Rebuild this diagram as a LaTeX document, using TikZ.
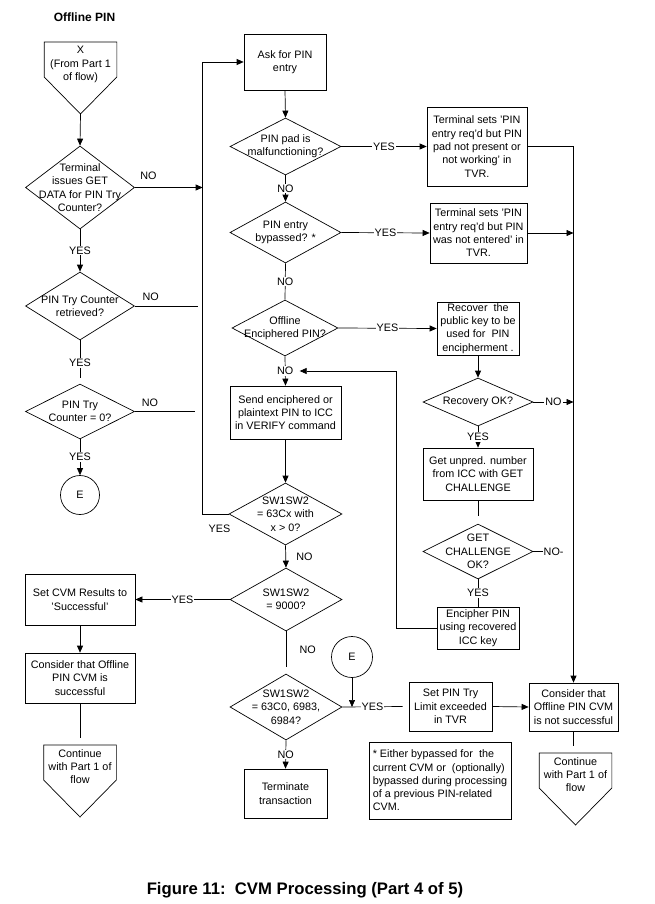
\documentclass[tikz,border=0pt]{standalone}
\usepackage{fontspec}
\setmainfont{Liberation Sans}
\usetikzlibrary{shapes.geometric,arrows.meta,calc}

% outline of an off-page connector below node #1, tip named #2
\newcommand{\pagetip}[2]{%
  \draw (#1.north west) -- (#1.north east) -- ($(#1.north east)+(0,35)$)
    -- ($(#1.north)+(0,72)$) -- ($(#1.north west)+(0,35)$) -- cycle;
  \coordinate (#2) at ($(#1.north)+(0,72)$);}

\begin{document}
\begin{tikzpicture}
    [
        x=1pt, y=-1pt,
        line width=0.7pt,
        every node/.style={font=\fontsize{10.8}{13.3}\selectfont},
        box/.style={draw, rectangle, align=center, inner sep=1pt},
        dec/.style={draw, diamond, inner sep=0pt},
        dtext/.style={align=center},
        lbl/.style={fill=white, inner sep=1pt},
        conn/.style={draw, circle, inner sep=0pt, minimum size=39pt},
        pagebox/.style={minimum width=72pt, inner sep=4pt, align=center, anchor=north},
        flow/.style={-{Triangle[length=7pt,width=6pt]}},
    ]
    \useasboundingbox (0,0) rectangle (655,904);

    % left column
    \node[font=\fontsize{12}{14}\selectfont\bfseries] (title) at (84.5,17) {Offline PIN};
    \node[pagebox] (fromx) at (80.5,42) {X\\(From Part 1\\of flow)};
    \pagetip{fromx}{fromtip}
    \node[dec, minimum width=109pt, minimum height=83pt,
        label={[dtext]center:{Terminal\\issues GET\\DATA for PIN Try\\Counter?}}] (gd) at (80,187.5) {};
    \node[dec, minimum width=109pt, minimum height=68pt,
        label={[dtext]center:{PIN Try Counter\\retrieved?}}] (ptc) at (80,306) {};
    \node[dec, minimum width=109pt, minimum height=55pt,
        label={[dtext]center:{PIN Try\\Counter = 0?}}] (ptz) at (80,411.5) {};
    \node[conn] (e1) at (80,495) {E};
    \node[box, minimum width=110pt, minimum height=51pt] (setcvm) at (80,599.5) {Set CVM Results to\\'Successful'};
    \node[box, minimum width=110pt, minimum height=50pt] (okcvm) at (80,678) {Consider that Offline\\PIN CVM is\\successful};
    \node[pagebox] (backok) at (80,745) {Continue\\with Part 1 of\\flow};
    \pagetip{backok}{oktip}

    % middle column
    \node[box, minimum width=82pt, minimum height=56pt] (ask) at (285,62) {Ask for PIN\\entry};
    \node[dec, minimum width=111pt, minimum height=57pt,
        label={[dtext]center:{PIN pad is\\malfunctioning?}}] (pad) at (285.5,146.5) {};
    \node[dec, minimum width=111pt, minimum height=61pt,
        label={[dtext]center:{PIN entry\\bypassed? *}}] (byp) at (285.5,232.5) {};
    \node[dec, minimum width=106pt, minimum height=56pt,
        label={[dtext]center:{Offline\\Enciphered PIN?}}] (enc) at (285,328) {};
    \node[box, minimum width=111pt, minimum height=53pt] (send) at (285.5,412.5) {Send enciphered or\\plaintext PIN to ICC\\in VERIFY command};
    \node[dec, minimum width=113pt, minimum height=62pt,
        label={[dtext]center:{SW1SW2\\= 63Cx with\\x > 0?}}] (s63cx) at (285.5,514) {};
    \node[dec, minimum width=112pt, minimum height=63pt,
        label={[dtext]center:{SW1SW2\\= 9000?}}] (s9000) at (286,599.5) {};
    \node[dec, minimum width=112pt, minimum height=66pt,
        label={[dtext]center:{SW1SW2\\= 63C0, 6983,\\6984?}}] (s63c0) at (286,707) {};
    \node[box, minimum width=83pt, minimum height=49pt] (term) at (285.5,793.5) {Terminate\\transaction};
    \node[conn, minimum size=41pt] (e2) at (352,657) {E};

    % right column
    \node[box, minimum width=100pt, minimum height=79pt] (tvr1) at (477,146.5) {Terminal sets 'PIN\\entry req'd but PIN\\pad not present or\\not working' in\\TVR.};
    \node[box, minimum width=97pt, minimum height=60pt] (tvr2) at (478.5,233) {Terminal sets 'PIN\\entry req'd but PIN\\was not entered' in\\TVR.};
    \node[box, minimum width=82pt, minimum height=53pt] (recover) at (478,328.5) {Recover\ \ the\\public key to be\\used for\ \ PIN\\encipherment .};
    \node[dec, minimum width=110pt, minimum height=48pt,
        label={[dtext]center:{Recovery OK?}}] (rok) at (478,402) {};
    \node[box, minimum width=110pt, minimum height=52pt] (getun) at (478,474) {Get unpred. number\\from ICC with GET\\CHALLENGE};
    \node[dec, minimum width=110pt, minimum height=55pt,
        label={[dtext]center:{GET\\CHALLENGE\\OK?}}] (gcok) at (478,551.5) {};
    \node[box, minimum width=82pt, minimum height=42pt] (encipher) at (478,628) {Encipher PIN\\using recovered\\ICC key};
    \node[box, minimum width=83pt, minimum height=49pt] (setpin) at (450.5,706.5) {Set PIN Try\\Limit exceeded\\in TVR};
    \node[box, minimum width=89pt, minimum height=48pt] (failcvm) at (573.5,707) {Consider that\\Offline PIN CVM\\is not successful};
    \node[box, align=left, minimum width=142pt, minimum height=77pt] (note) at (440,780.5)
        {* Either bypassed for\ \ the\\current CVM or\ \ (optionally)\\bypassed during processing\\of a previous PIN-related\\CVM.};
    \node[pagebox] (backfail) at (575.5,753) {Continue\\with Part 1 of\\flow};
    \pagetip{backfail}{failtip}

    \node[font=\fontsize{16.7}{20}\selectfont\bfseries] (caption) at (305,890) {Figure 11:\ \ CVM Processing (Part 4 of 5)};

    % connectors, left column
    \draw[flow] (fromtip) -- (gd.north);
    \draw[flow] (s63cx.west) -- node[pos=.35, below=7pt]{YES} ++(-26,0) coordinate (loopx) |- (ask.west);
    \draw[flow] (gd.east) -- node[pos=.2, above=4pt]{NO} (gd.east -| loopx);
    \draw (ptc.east) -- node[pos=.25, above=2pt]{NO} ++(63,0);
    \draw (ptz.east) -- node[pos=.25, above=1pt]{NO} ++(60,0);
    \draw[flow] (gd.south) -- node[lbl]{YES} (ptc.north);
    \draw (ptc.south) -- node[lbl, pos=.6]{YES} ($(ptz.north)+(0,-6)$);
    \draw[flow] (ptz.south) -- node[lbl]{YES} (e1.north);
    \draw[flow] (setcvm.south) -- (okcvm.north);
    \draw (okcvm.south) -- ++(0,35);

    % connectors, middle column
    \draw[flow] (ask.south) -- (pad.north);
    \draw[flow] (pad.east) -- node[lbl]{YES} (tvr1.west);
    \draw[flow] (pad.south) -- node[lbl]{NO} (byp.north);
    \draw[flow] (byp.east) -- node[lbl]{YES} (tvr2.west);
    \draw (byp.south) -- node[lbl]{NO} (enc.north);
    \draw[flow] (enc.east) -- node[lbl]{YES} (recover.west);
    \draw[flow] (enc.south) -- node[lbl] (noenc) {NO} (send.north);
    \draw[flow] (send.south) -- (s63cx.north);
    \draw[flow] (s63cx.south) -- node[right=7pt]{NO} (s9000.north);
    \draw[flow] (s9000.west) -- node[lbl]{YES} (setcvm.east);
    \draw (s9000.south) -- node[right=10pt]{NO} ++(0,36);
    \draw[flow] (s63c0.south) -- node[lbl]{NO} (term.north);
    \draw (s63c0.east) -- node[lbl]{YES} ($(setpin.west)+(-6,0)$);
    \draw[flow] (e2.south) -- (e2.south |- s63c0.east);

    % connectors, right column
    \draw[flow] (tvr1.east) -| (failcvm.north);
    \draw[flow] (tvr2.east) -- (tvr2.east -| failcvm.north);
    \draw[flow] (recover.south) -- (rok.north);
    \draw[flow] (rok.east) -- node[lbl]{NO} (rok.east -| failcvm.north);
    \draw[flow] (rok.south) -- node[lbl]{YES} (getun.north);
    \draw (getun.south) -- ++(0,16);
    \draw (gcok.east) -- ++(10,0) node[right, inner sep=0pt]{NO-};
    \draw (gcok.south) -- node[lbl]{YES} (encipher.north);
    \draw[flow] (encipher.west) -- ++(-40,0) |- ($(noenc.east)+(5,0)$);
    \draw[flow] (setpin.east) -- (failcvm.west);
    \draw (failcvm.south) -- ++(0,15);
\end{tikzpicture}
\end{document}
